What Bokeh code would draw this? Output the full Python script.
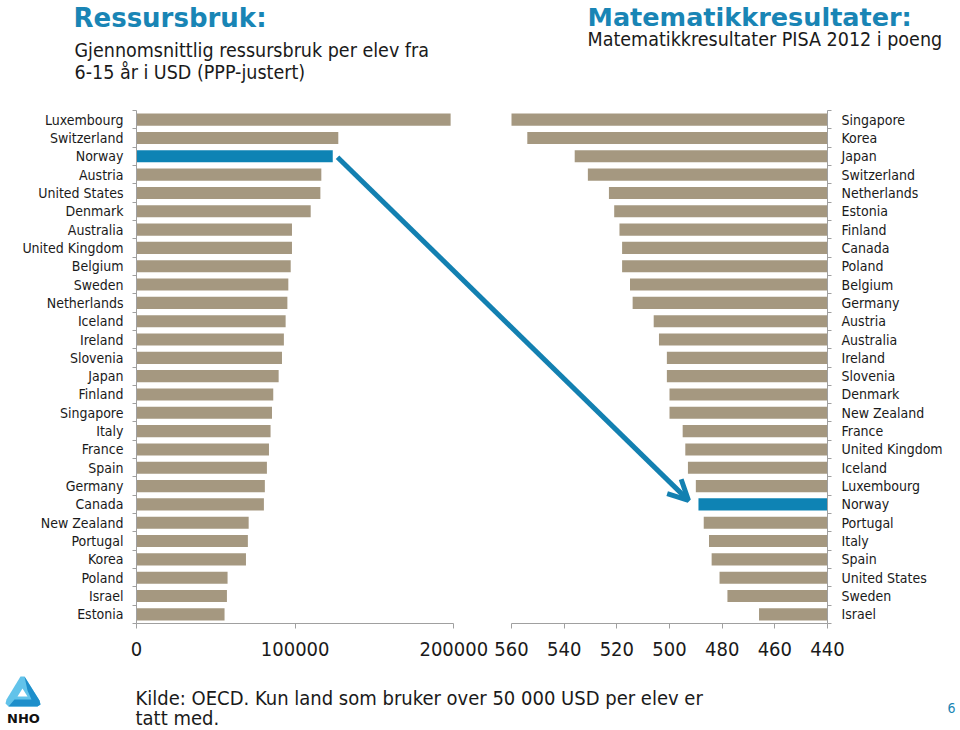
import numpy as np
from bokeh.plotting import figure
from bokeh.models import (Range1d, LinearAxis, FixedTicker, NumeralTickFormatter, Label,
                          Arrow, OpenHead)
from bokeh.embed import file_html
from bokeh.resources import INLINE

# ---------------- data ----------------
spend_countries = ["Luxembourg", "Switzerland", "Norway", "Austria", "United States", "Denmark",
                   "Australia", "United Kingdom", "Belgium", "Sweden", "Netherlands", "Iceland",
                   "Ireland", "Slovenia", "Japan", "Finland", "Singapore", "Italy", "France",
                   "Spain", "Germany", "Canada", "New Zealand", "Portugal", "Korea", "Poland",
                   "Israel", "Estonia"]
spend_usd = [198000, 127200, 123700, 116500, 115900, 109800, 98000, 98000, 97200, 95700,
             95100, 94000, 92900, 91700, 89600, 86200, 85400, 84500, 83500, 82200, 80900,
             80300, 70700, 70200, 69000, 57400, 57000, 55500]

pisa_countries = ["Singapore", "Korea", "Japan", "Switzerland", "Netherlands", "Estonia",
                  "Finland", "Canada", "Poland", "Belgium", "Germany", "Austria", "Australia",
                  "Ireland", "Slovenia", "Denmark", "New Zealand", "France", "United Kingdom",
                  "Iceland", "Luxembourg", "Norway", "Portugal", "Italy", "Spain",
                  "United States", "Sweden", "Israel"]
pisa_math = [573, 554, 536, 531, 523, 521, 519, 518, 518, 515, 514, 506, 504, 501, 501, 500,
             500, 495, 494, 493, 490, 489, 487, 485, 484, 481, 478, 466]

spend_ticks = [0, 100000, 200000]
pisa_ticks = [440, 460, 480, 500, 520, 540, 560]
highlight_country = "Norway"

# ---------------- style ----------------
BAR = "#a59880"
HL = "#0e83b4"
BLUE = "#1985b5"
ARROW_C = "#1380b1"
AXIS_C = "#a0a0a0"
TEXT_C = "#1a1a1a"
REG = "DejaVu Sans Condensed, DejaVu Sans"
BOLD = "DejaVu Sans"

# ---------------- layout (page pixels) ----------------
W, H = 960, 730
SP0_PX, SP1_PX = 136.0, 453.3      # where 0 and 200000 USD sit
PI_LO_PX, PI_HI_PX = 827.0, 511.0  # where 440 and 560 points sit
ROW_TOP, ROW_BOT = 110.0, 623.0    # top / bottom of the bar area
N = len(spend_countries)

pisa_lo, pisa_hi = pisa_ticks[0], pisa_ticks[-1]
k = (spend_ticks[-1] - spend_ticks[0]) / (SP1_PX - SP0_PX)     # USD per pixel
q = (pisa_hi - pisa_lo) / (PI_LO_PX - PI_HI_PX)               # points per pixel
hrow = (ROW_BOT - ROW_TOP) / N                                 # pixels per row

x_range = Range1d(-SP0_PX * k, (W - SP0_PX) * k)
pisa_range = Range1d(pisa_lo + PI_LO_PX * q, pisa_lo - (W - PI_LO_PX) * q)
y_range = Range1d((ROW_BOT - H) / hrow - 0.5, ROW_BOT / hrow - 0.5)

spend_rows = [N - 1 - i for i in range(N)]
pisa_rows = [N - 1 - i for i in range(len(pisa_countries))]
bottom_edge = -0.5

p = figure(width=W, height=H, x_range=x_range, y_range=y_range,
           x_axis_location=None, y_axis_location=None,
           output_backend="svg", toolbar_location=None,
           min_border=0, min_border_left=0, min_border_right=0,
           min_border_top=0, min_border_bottom=0)
p.outline_line_color = None
p.xgrid.grid_line_color = None
p.ygrid.grid_line_color = None
p.background_fill_color = "white"
p.border_fill_color = "white"

p.extra_x_ranges = {"pisa_x": pisa_range, "px": Range1d(0, W)}
p.extra_y_ranges = {"py": Range1d(H, 0)}

# ---------------- bars ----------------
spend_colors = [HL if c == highlight_country else BAR for c in spend_countries]
p.hbar(y=spend_rows, left=0, right=spend_usd, height=0.66,
       fill_color=spend_colors, line_color=None)

pisa_colors = [HL if c == highlight_country else BAR for c in pisa_countries]
p.hbar(y=pisa_rows, left=np.minimum(pisa_math, pisa_hi), right=pisa_lo, height=0.66,
       fill_color=pisa_colors, line_color=None, x_range_name="pisa_x")


# ---------------- axes ----------------
def style_x(ax):
    ax.axis_line_color = AXIS_C
    ax.major_tick_line_color = AXIS_C
    ax.major_tick_out = 5
    ax.major_tick_in = 0
    ax.minor_tick_line_color = None
    ax.major_label_text_font = REG
    ax.major_label_text_font_size = "20px"
    ax.major_label_text_color = TEXT_C
    ax.major_label_standoff = 13


ax_spend = LinearAxis(fixed_location=bottom_edge, ticker=FixedTicker(ticks=spend_ticks),
                      formatter=NumeralTickFormatter(format="0"),
                      bounds=(spend_ticks[0], spend_ticks[-1]))
style_x(ax_spend)
p.add_layout(ax_spend, "below")

ax_pisa = LinearAxis(x_range_name="pisa_x", fixed_location=bottom_edge,
                     ticker=FixedTicker(ticks=pisa_ticks), bounds=(pisa_lo, pisa_hi))
style_x(ax_pisa)
p.add_layout(ax_pisa, "below")


def style_cat(ax, standoff):
    ax.axis_line_color = AXIS_C
    ax.major_tick_line_color = None
    ax.minor_tick_line_color = None
    ax.major_tick_out = 0
    ax.major_tick_in = 0
    ax.major_label_standoff = standoff
    ax.major_label_text_font = REG
    ax.major_label_text_font_size = "14px"
    ax.major_label_text_color = TEXT_C


def style_ticks(ax):
    ax.axis_line_color = None
    ax.major_tick_line_color = AXIS_C
    ax.major_tick_out = 4
    ax.major_tick_in = 0
    ax.minor_tick_line_color = None
    ax.major_label_text_color = None


boundaries = [r - 0.5 for r in range(N + 1)]
row_bounds = (boundaries[0], boundaries[-1])

ax_l = LinearAxis(fixed_location=spend_ticks[0], bounds=row_bounds,
                  ticker=FixedTicker(ticks=spend_rows),
                  major_label_overrides={r: c for r, c in zip(spend_rows, spend_countries)})
style_cat(ax_l, 13)
p.add_layout(ax_l, "left")
tk_l = LinearAxis(fixed_location=spend_ticks[0], bounds=row_bounds,
                  ticker=FixedTicker(ticks=boundaries))
style_ticks(tk_l)
p.add_layout(tk_l, "left")

ax_r = LinearAxis(x_range_name="pisa_x", fixed_location=pisa_lo, bounds=row_bounds,
                  ticker=FixedTicker(ticks=pisa_rows),
                  major_label_overrides={r: c for r, c in zip(pisa_rows, pisa_countries)})
style_cat(ax_r, 14)
p.add_layout(ax_r, "right")
tk_r = LinearAxis(x_range_name="pisa_x", fixed_location=pisa_lo, bounds=row_bounds,
                  ticker=FixedTicker(ticks=boundaries))
style_ticks(tk_r)
p.add_layout(tk_r, "right")

# ---------------- arrow Norway -> Norway ----------------
ni = spend_countries.index(highlight_country)
nj = pisa_countries.index(highlight_country)


def spend_to_pisa(v):
    px = SP0_PX + v / k
    return pisa_lo + (PI_LO_PX - px) * q


p.add_layout(Arrow(x_start=spend_to_pisa(spend_usd[ni] + 3000), y_start=spend_rows[ni] - 0.05,
                   x_end=pisa_math[nj] + 3.8, y_end=pisa_rows[nj] + 0.22,
                   x_range_name="pisa_x",
                   line_color=ARROW_C, line_width=5,
                   end=OpenHead(size=20, line_width=5, line_color=ARROW_C)))


# ---------------- texts ----------------
def lab(x, y, text, size, color=TEXT_C, font=REG, style="normal", align="left"):
    # y is the wanted baseline in page pixels; Bokeh's label box sits ~0.34em lower
    p.add_layout(Label(x=x, y=y - 0.34 * size, text=text, x_range_name="px", y_range_name="py",
                       text_font=font, text_font_size=f"{size}px", text_font_style=style,
                       text_color=color, text_align=align, text_baseline="alphabetic"))


lab(73, 26.7, "Ressursbruk:", 26, color=BLUE, font=BOLD, style="bold")
lab(74, 56.5, "Gjennomsnittlig ressursbruk per elev fra", 19.5)
lab(74, 79, "6-15 år i USD (PPP-justert)", 19.5)
lab(587, 25.5, "Matematikkresultater:", 25.5, color=BLUE, font=BOLD, style="bold")
lab(587, 45.5, "Matematikkresultater PISA 2012 i poeng", 19.5)
lab(135, 704.5, "Kilde: OECD. Kun land som bruker over 50 000 USD per elev er", 20)
lab(135, 724, "tatt med.", 20)
lab(955, 712, "6", 14, color=BLUE, align="right")

# NHO logo (simplified shapes, page-pixel coordinates)
logo_xs = [[20, 24, 39, 40, 37, 8, 5, 6],
           [24, 39, 40, 37, 8, 14, 31, 27],
           [22, 17, 27]]
logo_ys = [[676, 676, 700, 704, 706, 706, 703, 699],
           [676, 700, 704, 706, 706, 699, 699, 690],
           [688, 696, 696]]
p.patches(xs=logo_xs, ys=logo_ys, fill_color=["#62c3ea", "#1e8fcb", "white"],
          line_color=None, x_range_name="px", y_range_name="py")
lab(23, 722, "NHO", 13, color="#111111", font=BOLD, style="bold", align="center")

open("out.html", "w").write(file_html(p, INLINE))
